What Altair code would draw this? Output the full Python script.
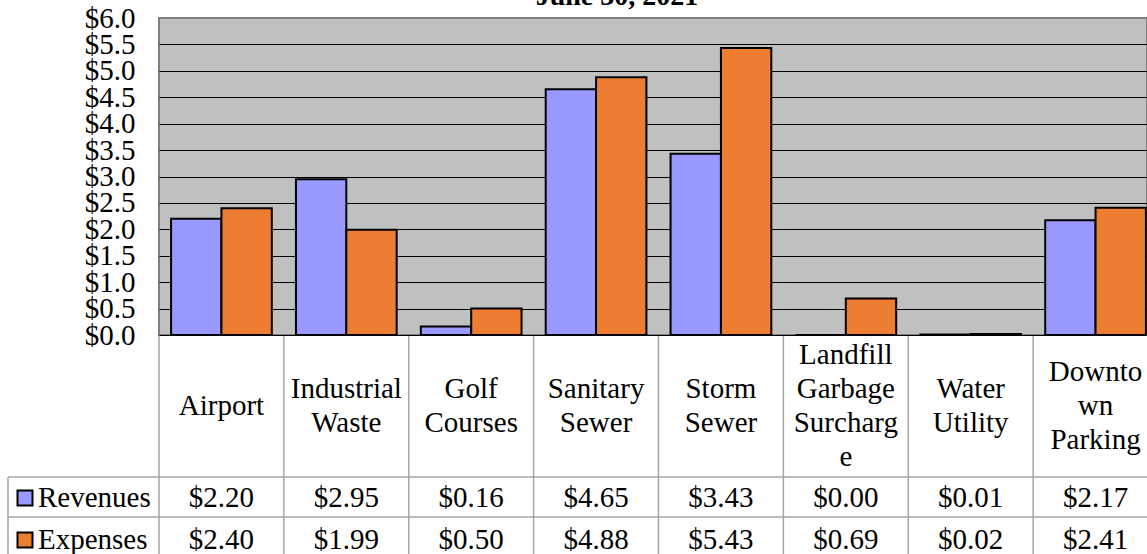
import altair as alt
import pandas as pd

# ---- data -------------------------------------------------------------
categories = ["Airport", "Industrial Waste", "Golf Courses", "Sanitary Sewer",
              "Storm Sewer", "Landfill Garbage Surcharge", "Water Utility",
              "Downtown Parking"]
category_labels = ["Airport", "Industrial\nWaste", "Golf\nCourses", "Sanitary\nSewer",
                   "Storm\nSewer", "Landfill\nGarbage\nSurcharg\ne", "Water\nUtility",
                   "Downto\nwn\nParking"]
revenues = [2.20, 2.95, 0.16, 4.65, 3.43, 0.00, 0.01, 2.17]
expenses = [2.40, 1.99, 0.50, 4.88, 5.43, 0.69, 0.02, 2.41]
series = ["Revenues", "Expenses"]
series_colors = ["#9999FF", "#ED7D31"]
y_ticks = [0.0, 0.5, 1.0, 1.5, 2.0, 2.5, 3.0, 3.5, 4.0, 4.5, 5.0, 5.5, 6.0]
title_text = "June 30, 2021"

# ---- tables -----------------------------------------------------------
cats = pd.DataFrame({"category": categories, "label": category_labels})
cats["lines"] = cats["label"].str.count("\n") + 1
rows = []
for name, vals in zip(series, [revenues, expenses]):
    for c, v in zip(categories, vals):
        rows.append({"category": c, "series": name, "value": v,
                     "text": f"${v:.2f}"})
long = pd.DataFrame(rows)
series_df = pd.DataFrame({"series": series})

# ---- layout -----------------------------------------------------------
FONT = "Liberation Serif"
FS = 29
LINE_H = 34
W, H = 988, 317
PAD_L, PAD_T, PAD_B = 159, 18, 219
BAND_SPAN = 999          # category columns continue past the right edge
LABEL_MID = 388          # vertical centre of the category-name row
ROW_TOP = {"Revenues": 459, "Expenses": 499}
ROW_MID = {"Revenues": 480, "Expenses": 522}
TABLE_BOTTOM = 545
GRID_GRAY = "#A6A6A6"

x_cat = alt.X("category:N", sort=categories,
              scale=alt.Scale(domain=categories, range=[0, BAND_SPAN],
                              paddingInner=0, paddingOuter=0),
              axis=None)
color_enc = alt.Color("series:N", scale=alt.Scale(domain=series, range=series_colors),
                      legend=None)

bars = alt.Chart(long).mark_bar(stroke="black", strokeWidth=2).encode(
    x=x_cat,
    xOffset=alt.XOffset("series:N", sort=series,
                        scale=alt.Scale(domain=series, paddingInner=0, paddingOuter=0.24)),
    y=alt.Y("value:Q",
            scale=alt.Scale(domain=[0, 6], nice=False, zero=True),
            axis=alt.Axis(values=y_ticks, format="$.1f", title=None,
                          labelFont=FONT, labelFontSize=FS, labelColor="black",
                          labelPadding=24, ticks=False, tickSize=0, domain=False,
                          labelOverlap=False, labelFlush=False, labelBound=False,
                          grid=True, gridWidth=1, gridOpacity=1,
                          gridColor=alt.condition("datum.value >= 6",
                                                  alt.value("#808080"),
                                                  alt.value("black")))),
    color=color_enc,
)

title_layer = alt.Chart(pd.DataFrame({"t": [title_text]})).mark_text(
    font=FONT, fontSize=28, fontWeight="bold", align="center",
    baseline="alphabetic", color="black"
).encode(text="t:N", x=alt.value(458), y=alt.value(-13))

# vertical column separators of the data table
col_lines = alt.Chart(cats).mark_rule(color=GRID_GRAY, strokeWidth=1.5).encode(
    x=alt.X("category:N", sort=categories, bandPosition=0,
            scale=alt.Scale(domain=categories, range=[0, BAND_SPAN],
                            paddingInner=0, paddingOuter=0),
            axis=None),
    y=alt.value(H + 1), y2=alt.value(TABLE_BOTTOM),
)

layers = [bars, col_lines]

# category names, each block centred vertically in its cell
for n in sorted(cats["lines"].unique()):
    sub = cats[cats["lines"] == n]
    layers.append(alt.Chart(sub).mark_text(
        font=FONT, fontSize=FS, lineHeight=LINE_H, lineBreak="\n",
        align="center", baseline="middle", color="black"
    ).encode(x=x_cat, text="label:N",
             y=alt.value(LABEL_MID - (int(n) - 1) * LINE_H / 2)))

for name in series:
    sdf = series_df[series_df.series == name]
    layers.append(alt.Chart(sdf).mark_rule(color=GRID_GRAY, strokeWidth=1.5).encode(
        x=alt.value(-151), x2=alt.value(W), y=alt.value(ROW_TOP[name])))
    layers.append(alt.Chart(sdf).mark_square(
        size=225, stroke="black", strokeWidth=2, opacity=1).encode(
        x=alt.value(-134), y=alt.value(ROW_MID[name]), color=color_enc))
    layers.append(alt.Chart(sdf).mark_text(
        font=FONT, fontSize=FS, align="left", baseline="middle", color="black"
    ).encode(x=alt.value(-121), y=alt.value(ROW_MID[name]), text="series:N"))
    layers.append(alt.Chart(long[long.series == name]).mark_text(
        font=FONT, fontSize=FS, align="center", baseline="middle", color="black"
    ).encode(x=x_cat, y=alt.value(ROW_MID[name]), text="text:N"))

left_edge = alt.Chart(series_df.head(1)).mark_rule(color=GRID_GRAY, strokeWidth=1.5).encode(
    x=alt.value(-151), y=alt.value(ROW_TOP["Revenues"]), y2=alt.value(TABLE_BOTTOM))

layers += [left_edge, title_layer]

chart = alt.layer(*layers).properties(
    width=W, height=H,
    autosize=alt.AutoSizeParams(type="none"),
    padding={"left": PAD_L, "top": PAD_T, "right": 0, "bottom": PAD_B},
    background="white",
).configure_view(fill="#C0C0C0", stroke="#808080", strokeWidth=2)

chart.save("out.html", embed_options={"renderer": "svg", "actions": False})
